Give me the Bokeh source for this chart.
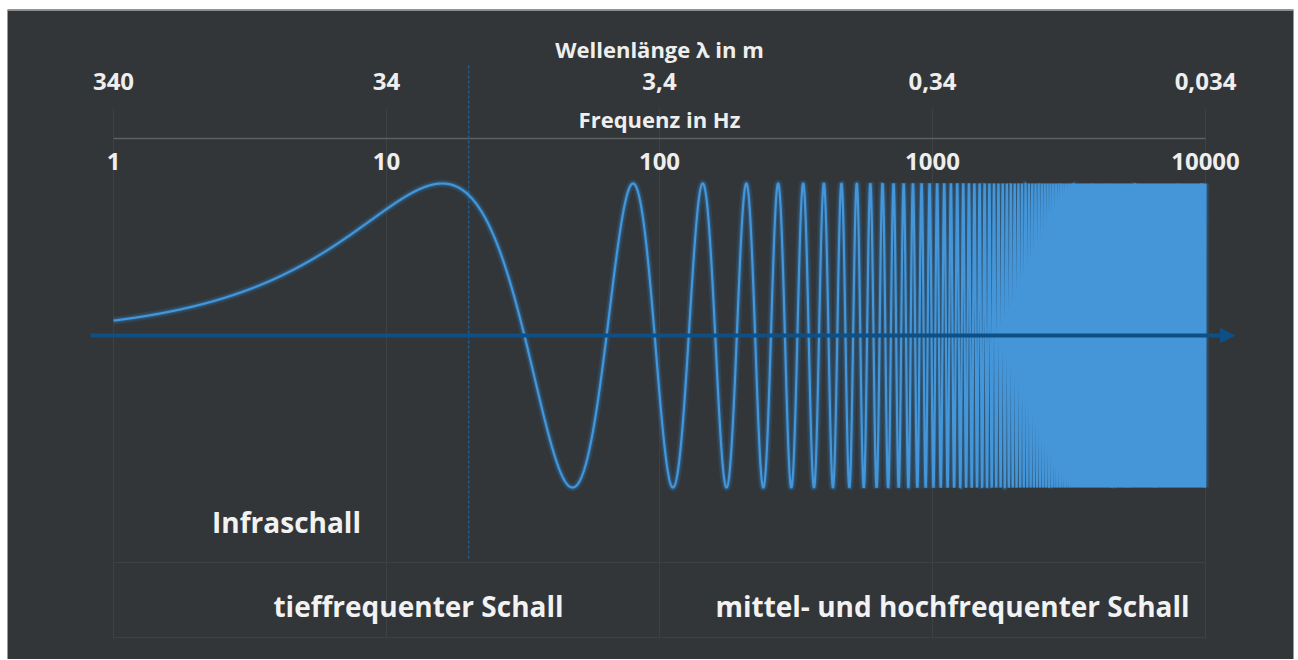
import numpy as np
from bokeh.plotting import figure
from bokeh.models import Range1d, Arrow, NormalHead, ColumnDataSource
from bokeh.core.properties import value
from bokeh.embed import file_html
from bokeh.resources import INLINE

# ---------------- data ----------------
freq_ticks = [1, 10, 100, 1000, 10000]                 # Hz
freq_labels = ["1", "10", "100", "1000", "10000"]
wavelength_labels = ["340", "34", "3,4", "0,34", "0,034"]  # m  (340 m/s / f)
infra_limit_hz = 20                                     # dashed boundary
wave_cycle_hz = 64                                      # one sine cycle every ~64 Hz (peaks at ~16, 80, 144, 208, 272 Hz)
wave_amplitude = 1.0
f_min, f_max = 1, 10000
region_labels = ["Infraschall", "tieffrequenter Schall", "mittel- und hochfrequenter Schall"]

# ---------------- layout helpers (page pixel -> data) ----------------
X0, DEC = 113.0, 273.0      # page x of 1 Hz, px per decade
Y0, AMP = 335.0, 152.0      # page y of zero line, px per unit amplitude


def fx(px):
    return 10 ** ((px - X0) / DEC)


def fy(py):
    return (Y0 - py) / AMP


BG = "#323638"
W, H = 1296, 659
L, T, R = 7, 9, 3           # white page border around the dark panel
FL, FR, FT, FB = L, W - R, T, H  # frame edges in page px

p = figure(width=W, height=H, x_axis_type="log",
           x_range=Range1d(fx(FL), fx(FR)), y_range=Range1d(fy(FB), fy(FT)),
           x_axis_location=None, y_axis_location=None,
           output_backend="svg", toolbar_location=None,
           min_border_left=L, min_border_top=T, min_border_right=R, min_border_bottom=0)
p.background_fill_color = BG
p.border_fill_color = "white"
p.outline_line_color = None
p.grid.visible = False

# top edge highlight of the panel
p.segment(x0=[fx(FL)], x1=[fx(FR)], y0=[fy(FT + 0.7)], y1=[fy(FT + 0.7)],
          line_color="#8a8d8f", line_width=1.5)

# faint frame / grid lines
p.segment(x0=freq_ticks, x1=freq_ticks, y0=[fy(108)] * 5, y1=[fy(638)] * 5,
          line_color="#3d4143", line_width=1)
p.segment(x0=[f_min, f_min, f_min], x1=[f_max, f_max, f_max],
          y0=[fy(138), fy(562), fy(637)], y1=[fy(138), fy(562), fy(637)],
          line_color=["#5d6163", "#3d4143", "#3d4143"], line_width=[1.5, 1, 1])

# 20 Hz boundary
p.segment(x0=[infra_limit_hz], x1=[infra_limit_hz], y0=[fy(65)], y1=[fy(558)],
          line_color="#1d5c8f", line_width=1.5, line_dash="3 2")

# the wave
f = np.unique(np.concatenate([np.geomspace(f_min, f_max, 4000),
                              np.arange(f_min, f_max + 1, 1.0)]))
y = wave_amplitude * np.sin(2 * np.pi * f / wave_cycle_hz)
src = ColumnDataSource(dict(f=f, y=y))
p.line("f", "y", source=src, line_color="#2a7cc4", line_width=8, line_alpha=0.18)
p.line("f", "y", source=src, line_color="#2f86cf", line_width=4.5, line_alpha=0.3)
p.line("f", "y", source=src, line_color="#4496d9", line_width=2.2)

# zero-line arrow
p.add_layout(Arrow(end=NormalHead(size=14, fill_color="#0e4f85", line_color="#0e4f85"),
                   x_start=fx(90), y_start=0, x_end=fx(1234), y_end=0,
                   line_color="#0e4f85", line_width=4))

font = value("Open Sans")
# wavelength tick labels
p.text(x=freq_ticks, y=[fy(81)] * 5, text=wavelength_labels, text_font=font,
       text_font_style="bold", text_font_size="24px", text_color="#eeeeee",
       text_align="center", text_baseline="alphabetic")
# frequency tick labels
p.text(x=freq_ticks, y=[fy(161)] * 5, text=freq_labels, text_font=font,
       text_font_style="bold", text_font_size="24px", text_color="#eeeeee",
       text_align="center", text_baseline="alphabetic")
# axis titles (centred at 100 Hz)
p.text(x=[100, 100], y=[fy(48), fy(118)], text=["Wellenlänge λ in m", "Frequenz in Hz"],
       text_font=font, text_font_style="bold", text_font_size="22px",
       text_color="#eeeeee", text_align="center", text_baseline="alphabetic")
# region labels
p.text(x=[fx(286), fx(418), fx(952)], y=[fy(521), fy(605), fy(605)], text=region_labels,
       text_font=font, text_font_style="bold", text_font_size="28px",
       text_color="#f2f2f2", text_align="center", text_baseline="alphabetic")

open("out.html", "w").write(file_html(p, INLINE))
